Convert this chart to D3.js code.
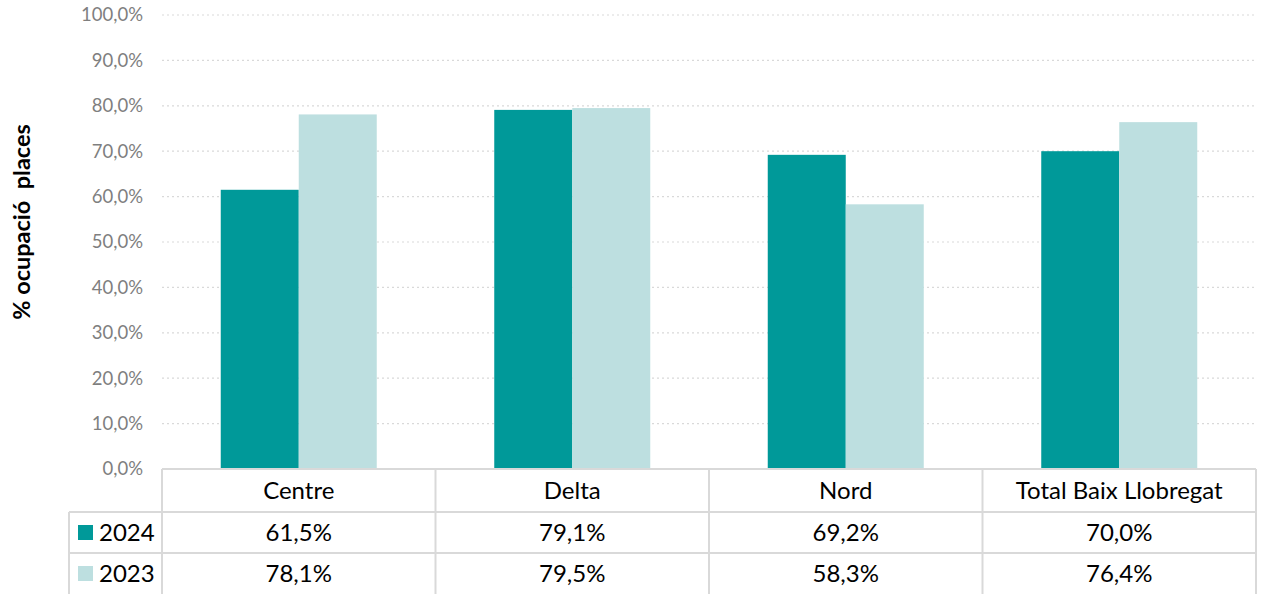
<!DOCTYPE html>
<html><head><meta charset="utf-8">
<script src="https://cdn.jsdelivr.net/npm/d3@7"></script>
<style>body{margin:0;background:#fff}svg{display:block}</style>
</head><body><svg id="c" width="1266" height="594"></svg>
<script>
const categories = ["Centre", "Delta", "Nord", "Total Baix Llobregat"];
const seriesNames = ["2024", "2023"];
const values2024 = [61.5, 79.1, 69.2, 70.0];
const values2023 = [78.1, 79.5, 58.3, 76.4];
const yTicks = [0, 10, 20, 30, 40, 50, 60, 70, 80, 90, 100];
const colors = ["#009999", "#BDDFE0"];
const series = [values2024, values2023];

const svg = d3.select("#c");
const font = "Lato, 'Open Sans', sans-serif";
const pL = 162, pR = 1256, pT = 15, pB = 469;
const x = d3.scaleBand().domain(categories).range([pL, pR]).paddingInner(0).paddingOuter(0);
const y = d3.scaleLinear().domain([0, 100]).range([pB, pT]);
const groupW = 156 / 273.5 * x.bandwidth();
const xi = d3.scaleBand().domain(seriesNames).range([(x.bandwidth() - groupW) / 2, (x.bandwidth() + groupW) / 2]);

// gridlines
svg.append("g").selectAll("line").data(yTicks.filter(d => d > 0)).join("line")
  .attr("x1", pL).attr("x2", pR).attr("y1", d => y(d)).attr("y2", d => y(d))
  .attr("stroke", "#d9d9d9").attr("stroke-width", 1.2).attr("stroke-dasharray", "2,3");

// y axis labels
const fmt = d => d.toFixed(1).replace(".", ",") + "%";
const yAxis = d3.axisLeft(y).tickValues(yTicks).tickFormat(fmt).tickSize(0).tickPadding(19);
const ga = svg.append("g").attr("transform", `translate(${pL},0)`).call(yAxis);
ga.select(".domain").remove();
ga.selectAll("text").attr("font-family", font).attr("font-size", 18.5).attr("fill", "#7f7f7f");

// bars
seriesNames.forEach((s, si) => {
  svg.append("g").selectAll("rect").data(categories).join("rect")
    .attr("x", c => x(c) + xi(s)).attr("width", xi.bandwidth())
    .attr("y", (c, i) => y(series[si][i])).attr("height", (c, i) => y(0) - y(series[si][i]))
    .attr("fill", colors[si]);
});

// table
const rowY = [469, 512, 553, 594];
const tLeft = 69;
const line = (x1, y1, x2, y2) => svg.append("line").attr("x1", x1).attr("y1", y1).attr("x2", x2).attr("y2", y2)
  .attr("stroke", "#d9d9d9").attr("stroke-width", 2);
line(pL, rowY[0], pR, rowY[0]);
line(tLeft, rowY[1], pR, rowY[1]);
line(tLeft, rowY[2], pR, rowY[2]);
line(tLeft, rowY[1], tLeft, rowY[3]);
categories.forEach(c => line(x(c), rowY[0], x(c), rowY[3]));
line(pR, rowY[0], pR, rowY[3]);

const tfs = 24;
svg.append("g").selectAll("text").data(categories).join("text")
  .attr("x", c => x(c) + x.bandwidth() / 2).attr("y", (rowY[0] + rowY[1]) / 2 + 8)
  .attr("text-anchor", "middle").attr("font-family", font).attr("font-size", tfs).attr("fill", "#000")
  .text(c => c);

const pfmt = d => d.toFixed(1).replace(".", ",") + "%";
seriesNames.forEach((s, si) => {
  const cy = (rowY[si + 1] + rowY[si + 2]) / 2;
  svg.append("rect").attr("x", 78).attr("y", cy - 7.5).attr("width", 15).attr("height", 15).attr("fill", colors[si]);
  svg.append("text").attr("x", 99).attr("y", cy + 8.5).attr("font-family", font).attr("font-size", tfs).attr("fill", "#000").text(s);
  svg.append("g").selectAll("text").data(categories).join("text")
    .attr("x", c => x(c) + x.bandwidth() / 2).attr("y", cy + 8.5)
    .attr("text-anchor", "middle").attr("font-family", font).attr("font-size", tfs).attr("fill", "#000")
    .text((c, i) => pfmt(series[si][i]));
});

// y axis title
svg.append("text").attr("transform", `translate(30,222) rotate(-90)`)
  .attr("text-anchor", "middle").attr("font-family", font).attr("font-size", 23.5).attr("font-weight", "bold")
  .attr("fill", "#000").style("white-space", "pre").text("% ocupació  places");
</script></body></html>
